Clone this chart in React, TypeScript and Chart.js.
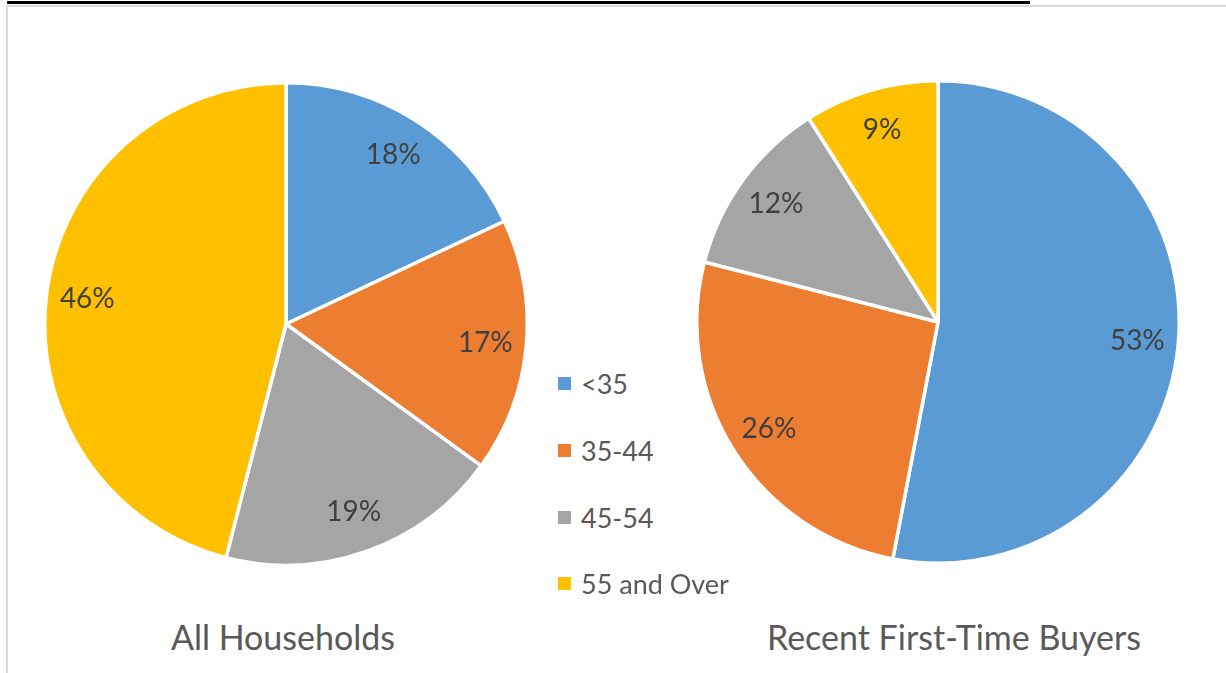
import React, { useEffect, useRef } from "react";
import { Chart, registerables } from "chart.js";

Chart.register(...registerables);

const categories = ["<35", "35-44", "45-54", "55 and Over"];
const allHouseholds = [18, 17, 19, 46];
const firstTimeBuyers = [53, 26, 12, 9];
const sliceColors = ["#5B9BD5", "#ED7D31", "#A5A5A5", "#FFC000"];
const chartTitles = ["All Households", "Recent First-Time Buyers"];

const FONT = "Lato, 'Open Sans', sans-serif";
const CANVAS = 486;

const labelPlugin = {
  id: "sliceLabels",
  afterDatasetsDraw(chart: any) {
    const ctx = chart.ctx;
    const meta = chart.getDatasetMeta(0);
    const data = chart.data.datasets[0].data;
    ctx.save();
    ctx.fillStyle = "#404040";
    ctx.font = `28px ${FONT}`;
    ctx.textAlign = "center";
    ctx.textBaseline = "middle";
    meta.data.forEach((arc: any, i: number) => {
      const { x, y, startAngle, endAngle, outerRadius } = arc.getProps(
        ["x", "y", "startAngle", "endAngle", "outerRadius"],
        true
      );
      const mid = (startAngle + endAngle) / 2;
      const r = outerRadius * 0.83;
      ctx.fillText(`${data[i]}%`, x + Math.cos(mid) * r, y + Math.sin(mid) * r);
    });
    ctx.restore();
  },
};

function PieChart({ values, left, top }: { values: number[]; left: number; top: number }) {
  const ref = useRef<HTMLCanvasElement | null>(null);
  useEffect(() => {
    if (!ref.current) return;
    const chart = new Chart(ref.current, {
      type: "pie",
      data: {
        labels: categories,
        datasets: [
          {
            data: values,
            backgroundColor: sliceColors,
            borderColor: "#ffffff",
            borderWidth: 3.5,
          },
        ],
      },
      options: {
        responsive: false,
        animation: false,
        devicePixelRatio: 1,
        layout: { padding: 0 },
        plugins: {
          legend: { display: false },
          tooltip: { enabled: false },
          title: { display: false },
        },
      },
      plugins: [labelPlugin],
    });
    return () => chart.destroy();
  }, [values]);
  return (
    <canvas
      ref={ref}
      width={CANVAS}
      height={CANVAS}
      style={{ position: "absolute", left, top, width: CANVAS, height: CANVAS }}
    />
  );
}

export default function App() {
  const legendY = [383, 450, 517, 583];
  return (
    <div
      style={{
        position: "fixed",
        left: 0,
        top: 0,
        width: 1226,
        height: 673,
        background: "#ffffff",
        overflow: "hidden",
        fontFamily: FONT,
      }}
    >
      <div style={{ position: "absolute", left: 7, top: 1, width: 1023, height: 3, background: "#000" }} />
      <div
        style={{
          position: "absolute",
          left: 6,
          top: 5,
          width: 1300,
          height: 800,
          border: "2px solid #d9d9d9",
          boxSizing: "border-box",
        }}
      />
      <PieChart values={allHouseholds} left={286 - CANVAS / 2} top={324 - CANVAS / 2} />
      <PieChart values={firstTimeBuyers} left={938 - CANVAS / 2} top={322 - CANVAS / 2} />
      {categories.map((c, i) => (
        <div
          key={c}
          style={{
            position: "absolute",
            left: 558,
            top: legendY[i] - 20,
            height: 40,
            display: "flex",
            alignItems: "center",
            whiteSpace: "nowrap",
          }}
        >
          <span style={{ display: "inline-block", width: 13, height: 13, background: sliceColors[i], marginRight: 10 }} />
          <span style={{ fontSize: 27, color: "#595959" }}>{c}</span>
        </div>
      ))}
      {chartTitles.map((t, i) => (
        <div
          key={t}
          style={{
            position: "absolute",
            left: (i === 0 ? 283 : 954) - 300,
            width: 600,
            top: 617,
            height: 40,
            lineHeight: "40px",
            textAlign: "center",
            fontSize: 34,
            color: "#595959",
            whiteSpace: "nowrap",
          }}
        >
          {t}
        </div>
      ))}
    </div>
  );
}
